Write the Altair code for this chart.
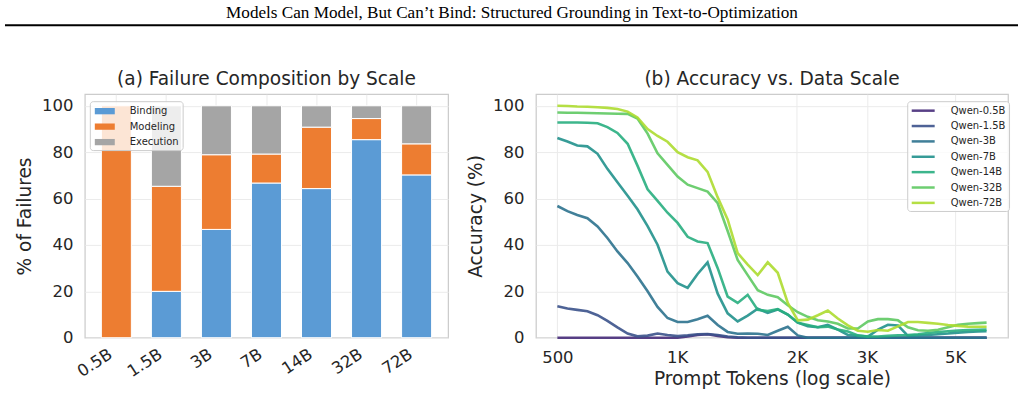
import altair as alt
import pandas as pd

HEADER = "Models Can Model, But Can’t Bind: Structured Grounding in Text-to-Optimization"
FONT = "DejaVu Sans"
INK = "#262626"

# ---- (a) failure composition by model scale (percent of failures) ----
SCALES = ["0.5B", "1.5B", "3B", "7B", "14B", "32B", "72B"]
COMPONENTS = ["Binding", "Modeling", "Execution"]
COMPONENT_COLORS = ["#5b9bd5", "#ed7d31", "#a5a5a5"]
BINDING = [0.0, 20.0, 46.7, 66.7, 64.3, 85.4, 70.2]
MODELING = [100.0, 45.3, 32.2, 12.5, 26.5, 9.1, 13.4]
EXECUTION = [0.0, 34.7, 21.1, 20.8, 9.2, 5.5, 16.4]

# ---- (b) smoothed accuracy against prompt length ----
PROMPT_TOKENS = [500, 530, 561, 595, 631, 668, 708, 751, 795, 843, 893, 946,
                 1003, 1063, 1126, 1193, 1265, 1340, 1420, 1505, 1595, 1690,
                 1791, 1898, 2011, 2131, 2259, 2393, 2536, 2688, 2848, 3018,
                 3198, 3389, 3592, 3806, 4033, 4274, 4529, 4800, 5086, 5390,
                 5711, 6000]
SERIES = ["Qwen-0.5B", "Qwen-1.5B", "Qwen-3B", "Qwen-7B",
          "Qwen-14B", "Qwen-32B", "Qwen-72B"]
SERIES_COLORS = ["#472c7a", "#3b528b", "#2c728e", "#21918c",
                 "#28ae80", "#5ec962", "#addc30"]
ACC_05B = [0, 0, 0, 0, 0, 0, 0, 0, 0, 0, 0, 0, 0, 0.5, 1.2, 1.5, 0.8, 0.2,
           0, 0, 0, 0, 0, 0, 0, 0, 0, 0, 0, 0, 0, 0, 0, 0, 0, 0, 0, 0, 0,
           0, 0, 0, 0, 0]
ACC_15B = [13.6, 12.6, 12.0, 11.4, 9.7, 7.3, 4.5, 1.8, 0.6, 0.9, 1.8, 1.2,
           0.7, 1.0, 1.5, 1.6, 1.2, 0.5, 0.2, 0, 0, 0, 0, 0, 0, 0, 0, 0, 0,
           0, 0, 0, 0, 0, 0, 0, 0, 0, 0, 0, 0, 0, 0, 0]
ACC_3B = [56.8, 54.6, 52.9, 51.5, 48.0, 43.0, 37.2, 32.2, 26.4, 20.0, 13.3,
          8.5, 6.8, 6.8, 8.0, 9.5, 5.5, 2.5, 1.7, 1.8, 1.7, 1.2, 3.0, 4.7,
          1.0, 0, 0, 0, 0, 0, 0, 0, 0, 0, 0, 0, 0, 0, 0, 0, 0, 0, 0, 0]
ACC_7B = [86.1, 84.6, 82.9, 82.5, 79.3, 72.8, 67.0, 61.2, 55.4, 48.1, 40.1,
          28.5, 23.5, 21.5, 27.5, 32.5, 19.0, 10.5, 7.0, 9.5, 12.5, 10.7,
          12.2, 10.0, 6.5, 5.0, 4.5, 5.5, 3.5, 1.2, 0.8, 0.5, 3.5, 5.6, 5.3,
          0.8, 1.0, 1.2, 1.5, 1.8, 2.2, 2.5, 2.7, 2.8]
ACC_14B = [92.8, 92.8, 92.8, 92.7, 92.5, 90.8, 88.3, 83.6, 74.2, 64.0, 59.0,
           53.9, 49.5, 43.5, 41.5, 40.8, 30.0, 17.7, 15.0, 18.5, 12.0, 11.5,
           12.3, 10.0, 6.5, 5.5, 4.5, 4.8, 3.5, 2.7, 1.0, 0.5, 0.5, 0.8, 1.0,
           1.2, 1.5, 2.0, 2.5, 2.8, 3.1, 3.3, 3.4, 3.5]
ACC_32B = [97.1, 97.0, 97.0, 96.9, 96.8, 96.7, 96.6, 96.5, 94.5, 88.0, 79.5,
           74.5, 69.5, 66.0, 64.5, 63.0, 58.0, 46.0, 33.5, 27.0, 20.5, 18.5,
           17.5, 14.0, 11.0, 9.0, 7.5, 7.0, 6.0, 4.0, 4.0, 7.0, 8.0, 8.0, 7.5,
           4.5, 3.2, 3.0, 3.4, 4.5, 5.6, 6.0, 6.3, 6.5]
ACC_72B = [100.0, 99.9, 99.7, 99.6, 99.4, 99.1, 98.6, 97.5, 95.0, 90.0, 87.0,
           84.5, 80.0, 77.8, 76.5, 71.5, 60.5, 51.0, 36.5, 31.5, 27.0, 32.5,
           28.0, 15.0, 7.5, 7.8, 9.7, 11.7, 8.3, 5.3, 3.0, 2.6, 3.3, 3.0, 4.9,
           6.8, 6.8, 6.4, 6.0, 5.5, 5.1, 4.8, 4.7, 4.7]
ACCURACY = [ACC_05B, ACC_15B, ACC_3B, ACC_7B, ACC_14B, ACC_32B, ACC_72B]

# ---- tidy tables ----
fail_rows = []
for i, scale in enumerate(SCALES):
    for k, (name, vals) in enumerate(zip(COMPONENTS, [BINDING, MODELING, EXECUTION])):
        fail_rows.append({"scale": scale, "type": name, "pct": vals[i], "stack_order": k})
fail_df = pd.DataFrame(fail_rows)

acc_rows = []
for model, vals in zip(SERIES, ACCURACY):
    for t, v in zip(PROMPT_TOKENS, vals):
        acc_rows.append({"model": model, "tokens": t, "acc": v})
acc_df = pd.DataFrame(acc_rows)

y_ticks = [0, 20, 40, 60, 80, 100]

# ---- panel (a): stacked bars ----
bars = alt.Chart(fail_df).transform_filter("datum.pct > 0").mark_bar(
    stroke="white", strokeWidth=1
).encode(
    x=alt.X("scale:N", sort=SCALES,
            scale=alt.Scale(paddingInner=0.4, paddingOuter=0.33),
            axis=alt.Axis(title=None, labelAngle=-33, labelAlign="right",
                          labelBaseline="top", labelPadding=8, labelOffset=-10,
                          grid=True)),
    y=alt.Y("pct:Q", stack="zero",
            scale=alt.Scale(domain=[0, 105], nice=False),
            axis=alt.Axis(values=y_ticks, title="% of Failures")),
    color=alt.Color("type:N",
                    scale=alt.Scale(domain=COMPONENTS, range=COMPONENT_COLORS),
                    legend=alt.Legend(
                        title=None, orient="none", legendX=5, legendY=7,
                        symbolType="M-1.43,-0.45H1.43V0.45H-1.43Z",
                        symbolSize=196, symbolStrokeWidth=0, symbolOffset=5,
                        labelOffset=18, padding=3, rowPadding=3.5,
                        fillColor="rgba(255,255,255,0.8)", strokeColor="#cccccc",
                        cornerRadius=3, labelFont=FONT, labelFontSize=10,
                        labelColor=INK)),
    order=alt.Order("stack_order:Q", sort="ascending"),
).properties(width=364, height=244, title="(a) Failure Composition by Scale")

# ---- panel (b): one line per model size ----
color_enc = alt.Color(
    "model:N",
    scale=alt.Scale(domain=SERIES, range=SERIES_COLORS),
    legend=alt.Legend(
        title=None, orient="none", legendX=372, legendY=7,
        symbolType="M-2.3,0H2.3", symbolSize=100, symbolStrokeWidth=2.5,
        symbolOffset=6.5, labelOffset=21, padding=3, rowPadding=3.4,
        fillColor="rgba(255,255,255,0.8)", strokeColor="#cccccc",
        cornerRadius=3, labelFont=FONT, labelFontSize=10, labelColor=INK),
)
line_base = alt.Chart(acc_df).mark_line(strokeWidth=2.6, opacity=0.9).encode(
    x=alt.X("tokens:Q",
            scale=alt.Scale(type="log", domain=[441.7, 6793], nice=False),
            axis=alt.Axis(values=[500, 1000, 2000, 3000, 5000],
                          labelExpr="datum.value < 1000 ? '' + datum.value : (datum.value / 1000) + 'K'",
                          title="Prompt Tokens (log scale)", labelPadding=12,
                          titlePadding=3)),
    y=alt.Y("acc:Q", scale=alt.Scale(domain=[0, 105], nice=False),
            axis=alt.Axis(values=y_ticks, title="Accuracy (%)")),
    color=color_enc,
)
lines = alt.layer(
    *[line_base.transform_filter(alt.datum.model == m) for m in SERIES]
).properties(width=473, height=244, title="(b) Accuracy vs. Data Scale")

# ---- running header with rule (header origin sits above the left plot's left edge) ----
hdr_df = pd.DataFrame({"text": [HEADER]})
header_text = alt.Chart(hdr_df).mark_text(
    font="Liberation Serif", fontSize=17.2, color="black",
    align="center", baseline="middle"
).encode(text="text:N", x=alt.value(428), y=alt.value(12))
header_rule = alt.Chart(hdr_df).mark_rule(color="black", strokeWidth=2).encode(
    x=alt.value(-80), x2=alt.value(935), y=alt.value(24))
header = alt.layer(header_text, header_rule).properties(
    width=924, height=25, view=alt.ViewBackground(stroke="transparent"))

panels = alt.hconcat(bars, lines, spacing=16).resolve_scale(color="independent")

chart = alt.vconcat(
    header, panels, spacing=41,
).properties(
    padding={"left": 3, "top": 0, "right": 2, "bottom": 0},
    background="white",
).configure_view(
    stroke="#cccccc", strokeWidth=1.25
).configure_axis(
    domain=False, ticks=False, tickSize=0, grid=True, gridColor="#ebebeb",
    gridWidth=1, labelFont=FONT, labelFontSize=16.5, labelColor=INK,
    labelPadding=12, titleFont=FONT, titleFontSize=18.6, titleColor=INK,
    titleFontWeight="normal", titlePadding=7,
).configure_title(
    font=FONT, fontSize=18.6, fontWeight="normal", color=INK,
    anchor="middle", offset=6, baseline="alphabetic",
)

chart.save("out.html", embed_options={"renderer": "svg", "actions": False})
